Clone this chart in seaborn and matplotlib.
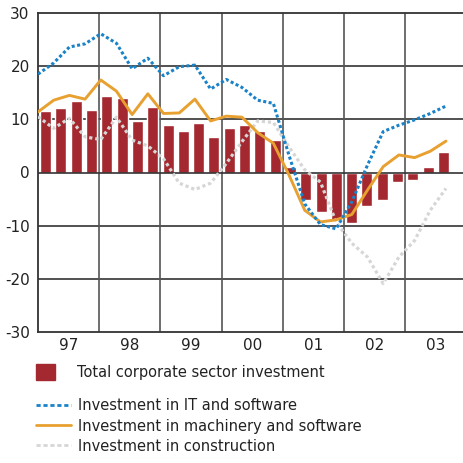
import matplotlib
matplotlib.use("Agg")
import matplotlib.pyplot as plt
from matplotlib.patches import Patch
from matplotlib.lines import Line2D
import numpy as np
import pandas as pd
import seaborn as sns

# ---- data (quarterly, 1997Q1 - 2003Q3) ----
quarters = [f"{y}Q{q}" for y in range(1997, 2004) for q in range(1, 5)][:27]
year_labels = ["97", "98", "99", "00", "01", "02", "03"]
total = [11.6, 12.2, 13.5, 11.8, 14.4, 14.0, 9.7, 12.3, 8.9, 7.8, 9.3, 6.7, 8.4,
         8.9, 7.8, 6.1, 1.1, -5.2, -7.4, -9.0, -9.5, -6.3, -5.2, -1.8, -1.4, 1.0, 3.8]
it_soft = [18.5, 20.6, 23.6, 24.2, 26.1, 24.3, 19.5, 21.5, 18.2, 19.9, 20.2, 15.7, 17.5,
           16.0, 13.6, 13.0, 3.2, -5.9, -9.8, -10.6, -5.5, 1.4, 7.7, 8.9, 9.9, 11.1, 12.5]
machinery = [11.4, 13.6, 14.5, 13.8, 17.4, 15.3, 10.9, 14.8, 11.1, 11.2, 13.8, 9.7, 10.6,
             10.4, 7.5, 5.5, -0.5, -7.1, -9.3, -8.9, -7.9, -3.3, 1.1, 3.3, 2.8, 4.0, 5.9]
construction = [10.5, 8.3, 10.2, 6.7, 6.2, 10.4, 6.1, 5.0, 2.6, -2.0, -3.2, -2.0, 1.7,
                5.8, 9.7, 9.4, 4.8, 0.5, -1.8, -9.3, -13.3, -15.9, -20.9, -15.9, -12.8, -7.1, -3.0]

labels = ["Total corporate sector investment",
          "Investment in IT and software",
          "Investment in machinery and software",
          "Investment in construction"]

BAR = "#a4282f"
BLUE = "#1a82c8"
ORANGE = "#e8a030"
GREY = "#d6d6d6"
GRID = "#333333"

sns.set_theme(style="white")
plt.rcParams["font.family"] = ["DejaVu Sans"]

df = pd.DataFrame({"quarter": quarters, "total": total, "it": it_soft,
                   "mach": machinery, "cons": construction})
df["idx"] = np.arange(len(df))

fig = plt.figure(figsize=(4.64, 4.63), dpi=100)
ax = fig.add_axes([38 / 464, 131 / 463, 426 / 464, 319 / 463])

sns.barplot(data=df, x="quarter", y="total", color=BAR, width=0.72,
            saturation=1, errorbar=None, ax=ax, zorder=3)

ax.set_xlim(-0.5, 27.34)
ax.set_ylim(-30, 30)
ax.set_yticks(range(-30, 31, 10))
ax.set_yticklabels([str(v) for v in range(-30, 31, 10)])
ax.set_xticks([1.5 + 4 * i for i in range(7)])
ax.set_xticklabels(year_labels)
ax.tick_params(axis="both", length=0, labelsize=11, colors="#222222")
ax.tick_params(axis="y", pad=6)
ax.tick_params(axis="x", pad=4)
ax.set_xlabel("")
ax.set_ylabel("")
for v in range(-20, 30, 10):
    ax.axhline(v, color=GRID, lw=1.2, zorder=4 if v == 0 else 1)
for b in [3.5 + 4 * i for i in range(6)]:
    ax.axvline(b, color="#555555", lw=1.2, zorder=1)
for s in ["left", "top", "bottom"]:
    ax.spines[s].set_color(GRID)
    ax.spines[s].set_linewidth(1.3)
ax.spines["right"].set_visible(False)

# lines on their own horizontal scale
ax2 = ax.twiny()
ax2.set_xlim(0, 27.15)
sns.lineplot(data=df, x="idx", y="cons", ax=ax2, color=GREY, lw=2.3,
             linestyle=(0, (1, 0.9)))
sns.lineplot(data=df, x="idx", y="mach", ax=ax2, color=ORANGE, lw=2.1)
sns.lineplot(data=df, x="idx", y="it", ax=ax2, color=BLUE, lw=2.2,
             linestyle=(0, (1, 0.8)))
ax2.set_xticks([])
ax2.set_xlabel("")
ax2.set_ylabel("")
for s in ax2.spines.values():
    s.set_visible(False)

# legends
leg1 = fig.legend(handles=[Patch(color=BAR)], labels=[labels[0]],
                  loc="center left", bbox_to_anchor=(36 / 464, 1 - 372 / 463),
                  frameon=False, fontsize=10.5, handlelength=1.3, handleheight=1.3,
                  handletextpad=1.5, borderpad=0, borderaxespad=0)
for t in leg1.get_texts():
    t.set_color("#222222")
h = [Line2D([], [], color=BLUE, lw=2, linestyle=(0, (1.5, 1))),
     Line2D([], [], color=ORANGE, lw=2),
     Line2D([], [], color=GREY, lw=2, linestyle=(0, (1.5, 1)))]
leg2 = fig.legend(handles=h, labels=labels[1:], loc="center left",
                  bbox_to_anchor=(36 / 464, 1 - 426 / 463), frameon=False,
                  fontsize=10.5, handlelength=2.4, handletextpad=0.5,
                  labelspacing=0.35, borderpad=0, borderaxespad=0)
for t in leg2.get_texts():
    t.set_color("#222222")

fig.savefig("out.png", dpi=100)
